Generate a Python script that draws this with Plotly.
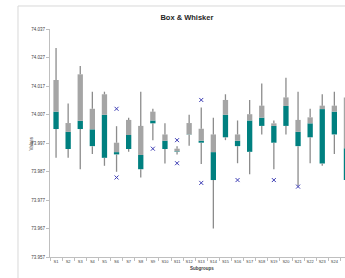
import plotly.graph_objects as go

categories = [f"S{i}" for i in range(1, 26)]
whisker_min = [73.9918, 73.9918, 73.9878, 73.9931, 73.9890, 73.9869, 73.9939, 73.9849, 73.9980, 73.9898,
               73.9930, 73.9960, 73.9896, 73.9670, 73.9980, 73.9899, 73.9860, 74.0000, 73.9878, 74.0000,
               73.9820, 73.9899, 73.9890, 73.9931, 73.9820]
q1 = [74.0019, 73.9949, 74.0019, 73.9959, 73.9918, 73.9930, 73.9949, 73.9878, 74.0039, 73.9949,
      73.9939, 73.9999, 73.9971, 73.9840, 73.9990, 73.9959, 73.9939, 74.0030, 73.9971, 74.0030,
      73.9959, 73.9990, 73.9898, 74.0000, 73.9840]
median = [74.0080, 74.0009, 74.0048, 74.0018, 74.0069, 73.9938, 73.9998, 73.9928, 74.0049, 73.9978,
          73.9941, 74.0000, 73.9978, 73.9938, 74.0069, 73.9978, 74.0049, 74.0059, 74.0030, 74.0100,
          74.0009, 74.0039, 74.0089, 74.0080, 73.9952]
q3 = [74.0191, 74.0040, 74.0211, 74.0090, 74.0141, 73.9971, 74.0051, 74.0030, 74.0080, 74.0000,
      73.9950, 74.0040, 74.0020, 74.0000, 74.0121, 74.0000, 74.0071, 74.0101, 74.0039, 74.0130,
      74.0051, 74.0060, 74.0101, 74.0101, 74.0130]
whisker_max = [74.0303, 74.0109, 74.0240, 74.0150, 74.0150, 74.0029, 74.0059, 74.0150, 74.0090, 74.0039,
               73.9959, 74.0069, 74.0095, 74.0059, 74.0141, 74.0049, 74.0121, 74.0179, 74.0049, 74.0199,
               74.0150, 74.0090, 74.0141, 74.0150, 74.0160]
outlier_cats = ["S6", "S6", "S9", "S11", "S11", "S13", "S13", "S16", "S19", "S21"]
outlier_vals = [74.0090, 73.9849, 73.9950, 73.9980, 73.9899, 74.0121, 73.9830, 73.9840, 73.9840, 73.9817]
y_ticks = [73.957, 73.967, 73.977, 73.987, 73.997, 74.007, 74.017, 74.027, 74.037]

TEAL = "#008080"
GRAY = "#a5a5a5"
WHISK = "#8c8c8c"

# whisker segments (outside the box)
wx, wy = [], []
for c, lo, a, b, hi in zip(categories, whisker_min, q1, q3, whisker_max):
    wx += [c, c, None, c, c, None]
    wy += [hi, b, None, a, lo, None]

fig = go.Figure()
fig.add_trace(go.Bar(x=categories, y=[m - a for m, a in zip(median, q1)], base=q1,
                     marker=dict(color=TEAL, line=dict(width=0)), hoverinfo="skip"))
fig.add_trace(go.Bar(x=categories, y=[b - m for b, m in zip(q3, median)], base=median,
                     marker=dict(color=GRAY, line=dict(width=0)), hoverinfo="skip"))
fig.add_trace(go.Scatter(x=wx, y=wy, mode="lines", line=dict(color=WHISK, width=1.3),
                         hoverinfo="skip"))
fig.add_trace(go.Scatter(x=outlier_cats, y=outlier_vals, mode="markers",
                         marker=dict(symbol="x-thin-open", size=4, color="#3c3cb4",
                                     line=dict(width=1, color="#3c3cb4"))))

fig.update_layout(
    width=345, height=278,
    margin=dict(l=50, r=0, t=29, b=21),
    paper_bgcolor="white", plot_bgcolor="white",
    showlegend=False, barmode="overlay", bargap=0.56,
    font=dict(family="Liberation Sans", color="#404040"),
    title=dict(text="<b>Box & Whisker</b>", x=0.464, xref="paper", xanchor="center",
               y=1 - 17 / 278, yref="container", yanchor="middle",
               font=dict(size=7.5, color="#262626")),
    xaxis=dict(type="category", range=[-0.5, 23.88], showgrid=False, zeroline=False,
               showline=True, linecolor="#bfbfbf", linewidth=1,
               ticks="outside", ticklen=3, tickcolor="#bfbfbf", tickson="boundaries",
               tickangle=0, tickfont=dict(size=4, color="#404040")),
    yaxis=dict(range=[73.957, 74.037], tickvals=y_ticks, tickformat=".3f",
               showgrid=False, zeroline=False, showline=True, linecolor="#bfbfbf", linewidth=1,
               ticks="outside", ticklen=3, tickcolor="#bfbfbf",
               tickfont=dict(size=4.5, color="#404040")),
    annotations=[
        dict(text="Values", x=-0.078, y=0.5, xref="paper", yref="paper", textangle=-90,
             showarrow=False, font=dict(size=4.5, color="#404040")),
        dict(text="<b>Subgroups</b>", x=0.515, y=-0.0702, xref="paper", yref="paper",
             showarrow=False, font=dict(size=4.5, color="#404040")),
    ],
    shapes=[
        dict(type="line", xref="paper", yref="paper", x0=-0.1085, x1=1.02, y0=1.1009, y1=1.1009,
             line=dict(color="#d9d9d9", width=1)),
        dict(type="line", xref="paper", yref="paper", x0=-0.1085, x1=-0.1085, y0=1.1009, y1=-0.2,
             line=dict(color="#d9d9d9", width=1)),
    ],
)

fig.write_html("out.html", config={"displayModeBar": False, "staticPlot": True},
               post_script="document.body.style.margin='0px';document.body.style.overflow='hidden';")
